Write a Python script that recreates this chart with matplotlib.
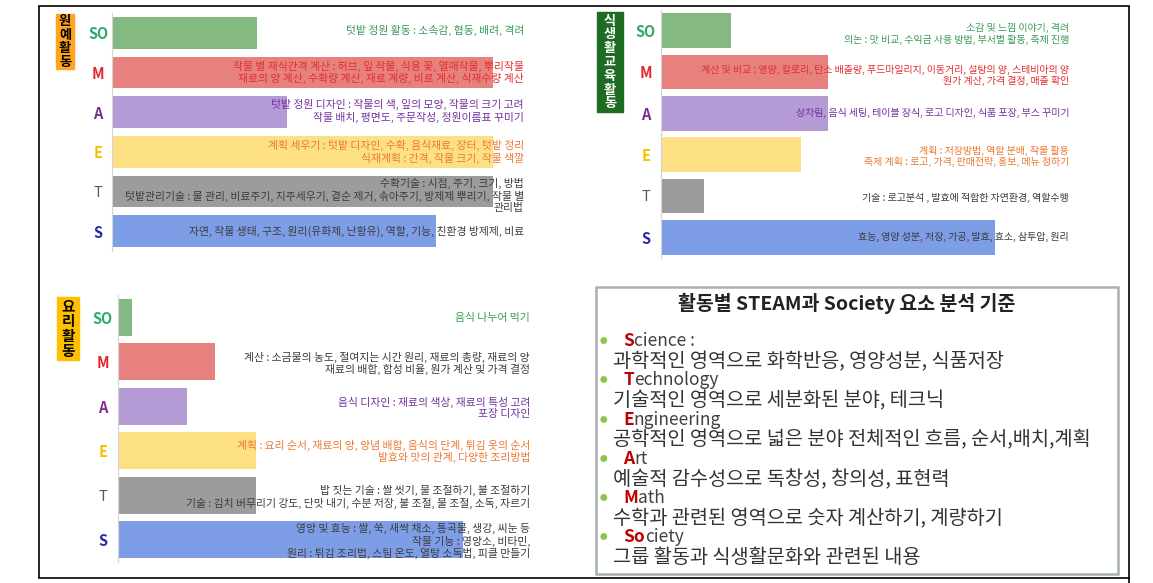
import matplotlib
matplotlib.use('Agg')
import matplotlib.pyplot as plt
import matplotlib.transforms as mtransforms
from matplotlib.patches import Rectangle
from matplotlib.lines import Line2D

plt.rcParams['font.family'] = ['Noto Sans CJK KR', 'DejaVu Sans']

W, H = 1153, 583

categories = ['SO', 'M', 'A', 'E', 'T', 'S']

# bar lengths (relative)
garden_values = [38, 100, 46, 100, 100, 85]
food_edu_values = [21, 50, 50, 42, 13, 100]
cooking_values = [4, 28, 20, 40, 40, 100]

garden_title = '원예활동'
food_edu_title = '식생활교육활동'
cooking_title = '요리활동'

garden_notes = [
    '텃밭 정원 활동 : 소속감, 협동, 배려, 격려',
    '작물 별 재식간격 계산 : 허브, 잎 작물, 식용 꽃, 열매작물, 뿌리작물\n재료의 양 계산, 수확량 계산, 재료 계량, 비료 계산, 식재수량 계산',
    '텃밭 정원 디자인 : 작물의 색, 잎의 모양, 작물의 크기 고려\n작물 배치, 평면도, 주문작성, 정원이름표 꾸미기',
    '계획 세우기 : 텃밭 디자인, 수확, 음식재료, 장터, 텃밭 정리\n식재계획 : 간격, 작물 크기, 작물 색깔',
    '수확기술 : 시점, 주기, 크기, 방법\n텃밭관리기술 : 물 관리, 비료주기, 지주세우기, 곁순 제거, 솎아주기, 방제제 뿌리기, 작물 별\n관리법',
    '자연, 작물 생태, 구조, 원리(유화제, 난황유), 역할, 기능, 친환경 방제제, 비료',
]
food_edu_notes = [
    '소감 및 느낌 이야기, 격려\n의논 : 맛 비교, 수익금 사용 방법, 부서별 활동, 축제 진행',
    '계산 및 비교 : 영양, 칼로리, 탄소 배출량, 푸드마일리지, 이동거리, 설탕의 양, 스테비아의 양\n원가 계산, 가격 결정, 매출 확인',
    '상차림, 음식 세팅, 테이블 장식, 로고 디자인, 식품 포장, 부스 꾸미기',
    '계획 : 저장방법, 역할 분배, 작물 활용\n축제 계획 : 로고, 가격, 판매전략, 홍보, 메뉴 정하기',
    '기술 : 로고분석 , 발효에 적합한 자연환경, 역할수행',
    '효능, 영양 성분, 저장, 가공, 발효, 효소, 삼투압, 원리',
]
cooking_notes = [
    '음식 나누어 먹기',
    '계산 : 소금물의 농도, 절여지는 시간 원리, 재료의 총량, 재료의 양\n재료의 배합, 합성 비율, 원가 계산 및 가격 결정',
    '음식 디자인 : 재료의 색상, 재료의 특성 고려\n포장 디자인',
    '계획 : 요리 순서, 재료의 양, 양념 배합, 음식의 단계, 튀김 옷의 순서\n발효와 맛의 관계, 다양한 조리방법',
    '밥 짓는 기술 : 쌀 씻기, 물 조절하기, 불 조절하기\n기술 : 김치 버무리기 강도, 단맛 내기, 수분 저장, 불 조절, 물 조절, 소독, 자르기',
    '영양 및 효능 : 쌀, 쑥, 새싹 채소, 통곡물, 생강, 씨눈 등\n작물 기능 : 영양소, 비타민,\n원리 : 튀김 조리법, 스팀 온도, 열탕 소독법, 피클 만들기',
]

box_title = '활동별 STEAM과 Society 요소 분석 기준'
box_heads = [('S', 'cience :'), ('T', 'echnology'), ('E', 'ngineering'),
             ('A', 'rt'), ('M', 'ath'), ('So', 'ciety')]
box_bodies = [
    '과학적인 영역으로 화학반응, 영양성분, 식품저장',
    '기술적인 영역으로 세분화된 분야, 테크닉',
    '공학적인 영역으로 넓은 분야 전체적인 흐름, 순서,배치,계획',
    '예술적 감수성으로 독창성, 창의성, 표현력',
    '수학과 관련된 영역으로 숫자 계산하기, 계량하기',
    '그룹 활동과 식생활문화와 관련된 내용',
]

bar_colors = ['#84B981', '#E6817E', '#B59BD5', '#FDE084', '#9C9C9C', '#7D9DE7']
label_colors = ['#2EA86C', '#E4262C', '#7A2E8E', '#F5C000', '#5A5A5A', '#2A2AAA']
GREEN, RED, PURPLE, ORANGE, DARK = '#3B9A5C', '#E0302F', '#7232A0', '#EC7A32', '#3C3C3C'

fig = plt.figure(figsize=(11.53, 5.83), dpi=100)


def px_axes(x0, y0, x1, y1):
    return fig.add_axes([x0 / W, 1 - y1 / H, (x1 - x0) / W, (y1 - y0) / H])


def draw_panel(box, values, notes, note_colors, note_dy, xmax, bar_h, pad, fs, ls):
    ax = px_axes(*box)
    ys = list(range(len(categories)))
    ax.barh(ys, values, height=bar_h, color=bar_colors, zorder=1)
    ax.set_xlim(0, xmax)
    ax.set_ylim(len(categories) - 0.5, -0.5)
    ax.set_xticks([])
    ax.set_yticks(ys)
    ax.set_yticklabels(categories)
    ax.tick_params(axis='y', length=0, pad=pad)
    for lbl, c in zip(ax.get_yticklabels(), label_colors):
        lbl.set_color(c)
        lbl.set_ha('center')
        lbl.set_fontsize(10.5)
        lbl.set_fontweight('normal' if lbl.get_text() == 'T' else 'bold')
    for s in ['top', 'right', 'bottom']:
        ax.spines[s].set_visible(False)
    ax.spines['left'].set_color('#D4D4D4')
    ax.patch.set_alpha(0)
    trans = mtransforms.blended_transform_factory(ax.transAxes, ax.transData)
    for i, (txt, c) in enumerate(zip(notes, note_colors)):
        ax.text(1.0, i + note_dy[i], txt, transform=trans, ha='right', va='center',
                color=c, fontsize=fs, linespacing=ls, zorder=3)
    return ax


def side_label(text, x0, y0, x1, y1, bg, fg, pitch, fs):
    fig.patches.append(Rectangle((x0 / W, 1 - y1 / H), (x1 - x0) / W, (y1 - y0) / H,
                                 transform=fig.transFigure, color=bg, zorder=0))
    n = len(text)
    cy = (y0 + y1) / 2
    for i, ch in enumerate(text):
        yy = cy + (i - (n - 1) / 2) * pitch
        fig.text((x0 + x1) / 2 / W, 1 - yy / H, ch, ha='center', va='center',
                 fontsize=fs, fontweight='bold', color=fg)


draw_panel((112, 13, 524, 251), garden_values, garden_notes,
           [GREEN, RED, PURPLE, ORANGE, DARK, DARK], [-0.05, 0, -0.03, 0, 0.1, 0],
           108.1, 0.8, 10, 7.8, 1.15)
draw_panel((661, 10, 1069, 258), food_edu_values, food_edu_notes,
           [GREEN, RED, PURPLE, ORANGE, DARK, DARK], [0.08, 0.08, 0, 0.05, 0.05, 0],
           122.2, 0.84, 11, 7.2, 1.15)
draw_panel((118, 295, 530, 562), cooking_values, cooking_notes,
           [GREEN, DARK, PURPLE, ORANGE, DARK, DARK], [0.02, 0.04, 0.03, 0.02, 0.04, 0.03],
           119.4, 0.84, 11, 7.8, 1.15)

side_label(garden_title, 56, 14, 74, 69, '#FFA41B', 'black', 13.5, 9.5)
side_label(food_edu_title, 597, 12, 623, 112, '#1E6B22', 'white', 13.8, 9.5)
side_label(cooking_title, 57, 297, 79, 360, '#FFC000', 'black', 15, 10.5)

# explanation box
fig.patches.append(Rectangle((596 / W, 1 - 574 / H), (1118 - 596) / W, (574 - 287) / H,
                             transform=fig.transFigure, fill=False, ec='#A6B2AD', lw=1.8))
fig.text(847 / W, 1 - 303 / H, box_title, ha='center', va='center',
         fontsize=14, fontweight='bold', color='#222222')
for i, ((first, rest), body) in enumerate(zip(box_heads, box_bodies)):
    hy = 341 + 39.3 * i
    by = 362 + 39.1 * i
    fig.text(603 / W, 1 - hy / H, '●', ha='center', va='center', fontsize=5.5, color='#8DC44A')
    t = fig.text(623 / W, 1 - hy / H, first, ha='left', va='center',
                 fontsize=12.5, fontweight='bold', color='#C00000')
    fig.axes[0].annotate(rest, xy=(1, 0), xycoords=t, ha='left', va='bottom',
                         fontsize=12.5, color='#404040', annotation_clip=False)
    fig.text(613 / W, 1 - by / H, body, ha='left', va='center', fontsize=14.2, color='#333333')

# outer frame
fig.patches.append(Rectangle((39 / W, 1 - 578 / H), (1129 - 39) / W, (578 - 6) / H,
                             transform=fig.transFigure, fill=False, ec='black', lw=1.2))
fig.lines.append(Line2D([1129 / W, 1129 / W], [0, 1 - 578 / H], transform=fig.transFigure,
                        color='black', lw=1.2))

fig.savefig('out.png', dpi=100)
